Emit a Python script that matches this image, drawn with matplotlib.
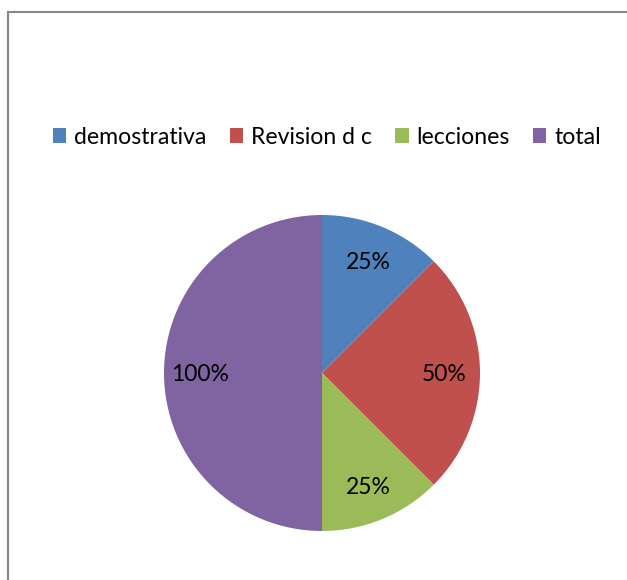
import matplotlib.pyplot as plt
from matplotlib.lines import Line2D

plt.rcParams['font.family'] = ['Lato', 'DejaVu Sans']

categories = ['demostrativa', 'Revision d c', 'lecciones', 'total']
values = [25, 50, 25, 100]
colors = ['#4F81BD', '#C0504D', '#9BBB59', '#8064A2']

W, H = 627, 580
fig = plt.figure(figsize=(W / 100, H / 100), dpi=100)

# chart border (top and left only visible)
fig.add_artist(Line2D([8 / W, 8 / W], [0, 1 - 12 / H], transform=fig.transFigure,
                      color='#868686', lw=1.5))
fig.add_artist(Line2D([8 / W, 1], [1 - 12 / H, 1 - 12 / H], transform=fig.transFigure,
                      color='#868686', lw=1.5))

# pie axes: center (322, 373), radius 158 px
cx, cy, r = 322, 373, 158
ax = fig.add_axes([(cx - r) / W, (H - cy - r) / H, 2 * r / W, 2 * r / H])
total = sum(values)
wedges, texts, autotexts = ax.pie(
    values, colors=colors, startangle=90, counterclock=False,
    autopct=lambda p: f'{p * total / 100:.0f}%', pctdistance=0.77,
    wedgeprops=dict(linewidth=0), textprops=dict(fontsize=16.5, color='black'))
for t in autotexts:
    t.set_y(t.get_position()[1] - 0.012)
ax.set_xlim(-1, 1)
ax.set_ylim(-1, 1)
ax.set_aspect('equal')

fig.legend(wedges, categories, loc='center', bbox_to_anchor=(327 / W, 1 - 137 / H),
           ncol=4, frameon=False, fontsize=16.6, handlelength=0.58, handleheight=0.58,
           handletextpad=0.35, columnspacing=1.0)

fig.savefig('out.png', dpi=100)
